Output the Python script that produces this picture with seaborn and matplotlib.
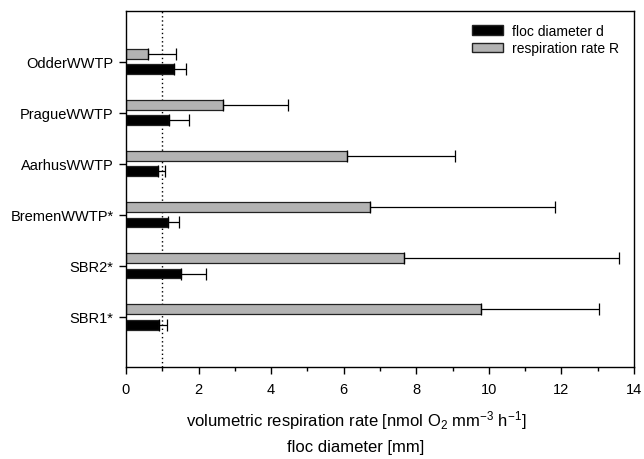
import numpy as np
import pandas as pd
import matplotlib
matplotlib.use('Agg')
import matplotlib.pyplot as plt
from matplotlib.ticker import MultipleLocator
from matplotlib.patches import Patch
import seaborn as sns

# values
sites = ['OdderWWTP', 'PragueWWTP', 'AarhusWWTP', 'BremenWWTP*', 'SBR2*', 'SBR1*']
resp_rate = [0.60, 2.66, 6.10, 6.72, 7.67, 9.77]       # nmol O2 mm-3 h-1
resp_err = [0.78, 1.81, 2.96, 5.10, 5.91, 3.26]
floc_diam = [1.32, 1.18, 0.87, 1.17, 1.52, 0.91]       # mm
floc_err = [0.33, 0.55, 0.20, 0.28, 0.69, 0.21]

resp_lab = 'respiration rate R'
diam_lab = 'floc diameter d'

df = pd.DataFrame({
    'site': sites * 2,
    'value': resp_rate + floc_diam,
    'series': [resp_lab] * len(sites) + [diam_lab] * len(sites),
})
errs = {resp_lab: resp_err, diam_lab: floc_err}
colors = {resp_lab: '#b3b3b3', diam_lab: '#000000'}

sns.set_style('ticks')
plt.rcParams['font.family'] = ['Liberation Sans', 'DejaVu Sans']
plt.rcParams['mathtext.default'] = 'regular'
for k in ['text.color', 'axes.labelcolor', 'xtick.color', 'ytick.color', 'axes.edgecolor']:
    plt.rcParams[k] = 'black'

fig = plt.figure(figsize=(6.44, 4.6), dpi=100)
ax = fig.add_axes([126 / 644, 1 - 368 / 460, 508 / 644, 356 / 460])

sns.barplot(data=df, x='value', y='site', hue='series', orient='h',
            hue_order=[resp_lab, diam_lab], palette=colors,
            width=0.6, gap=0.36, errorbar=None, legend=False, ax=ax,
            edgecolor='#222222', linewidth=0.9)

# one-sided error bars at the bar centres
for cont, name in zip(ax.containers, [resp_lab, diam_lab]):
    ys = [b.get_y() + b.get_height() / 2 for b in cont]
    xs = [b.get_width() for b in cont]
    e = errs[name]
    ax.errorbar(xs, ys, xerr=[np.zeros(len(e)), e], fmt='none',
                ecolor='black', elinewidth=0.9, capsize=4, capthick=0.9)

ax.axvline(1, color='black', ls=(0, (1, 2)), lw=1.0, zorder=0)

ax.set_xlim(0, 14)
ax.set_ylim(5.98, -0.99)
ax.xaxis.set_major_locator(MultipleLocator(2))
ax.xaxis.set_minor_locator(MultipleLocator(1))
ax.tick_params(axis='x', which='major', length=5, width=1, labelsize=10.5, pad=6)
ax.tick_params(axis='x', which='minor', length=3, width=1)
ax.tick_params(axis='y', length=5, width=1, labelsize=10.5, pad=4)
ax.set_xlabel('')
ax.set_ylabel('')
for s in ax.spines.values():
    s.set_visible(True)
    s.set_linewidth(1)
    s.set_color('black')

handles = [Patch(facecolor=colors[diam_lab], edgecolor='#222222'),
           Patch(facecolor=colors[resp_lab], edgecolor='#222222')]
ax.legend(handles, [diam_lab, resp_lab], loc='upper left',
          bbox_to_anchor=(472 / 644, 1 - 25 / 460), bbox_transform=fig.transFigure,
          frameon=False, fontsize=10, borderpad=0, borderaxespad=0,
          handlelength=2.25, handleheight=0.7, handletextpad=0.6, labelspacing=0.25)

fig.text(356 / 644, 1 - 421 / 460,
         'volumetric respiration rate [nmol O$_2$ mm$^{-3}$ h$^{-1}$]',
         ha='center', va='center', fontsize=12)
fig.text(356 / 644, 1 - 448 / 460, 'floc diameter [mm]',
         ha='center', va='center', fontsize=12)

fig.savefig('out.png', dpi=100)
